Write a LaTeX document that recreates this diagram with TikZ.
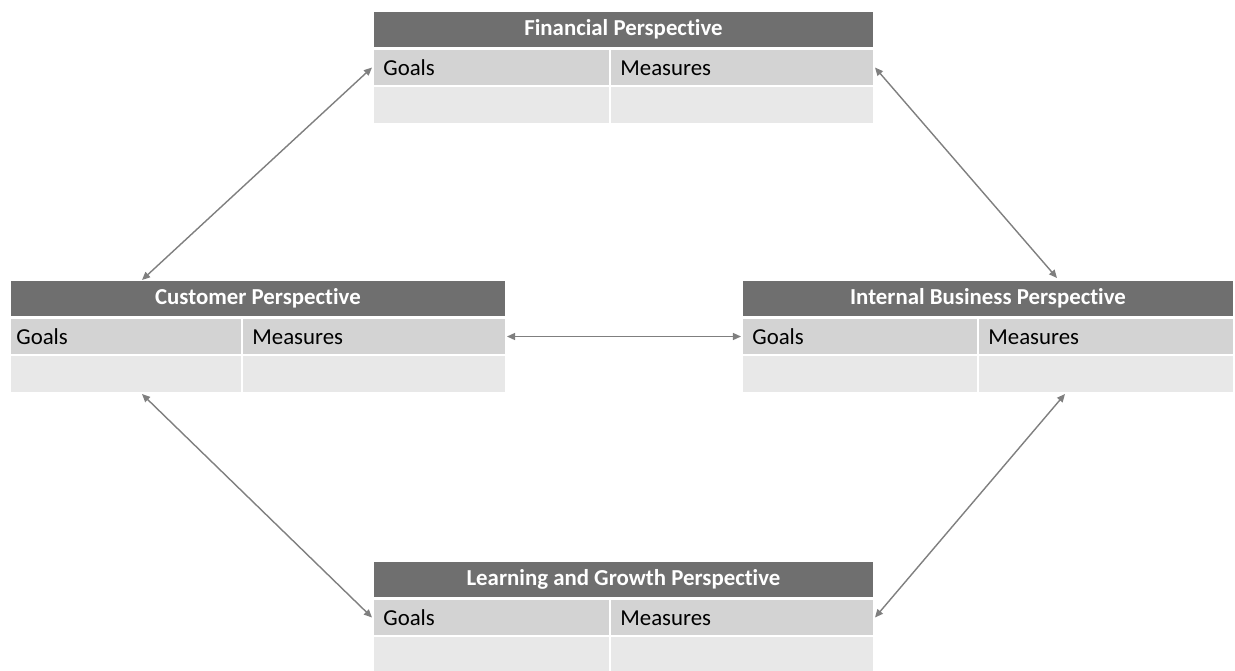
\documentclass[tikz,border=0pt]{standalone}
\usepackage{fontspec}
\setmainfont[RawFeature={-liga;-dlig}]{Carlito}
\usetikzlibrary{arrows.meta}

% one drawing unit = one pixel of the layout
\newlength\pxu
\setlength\pxu{0.02cm}

\definecolor{hdrgray}{HTML}{6F6F6F}
\definecolor{rowdark}{HTML}{D3D3D3}
\definecolor{rowlight}{HTML}{E8E8E8}
\definecolor{linkgray}{HTML}{7F7F7F}

\tikzset{
  cell/.style={inner sep=0pt, outer sep=0pt, anchor=north west},
  hdr/.style={cell, fill=hdrgray, text=white, font=\fontsize{13}{15}\selectfont\bfseries, minimum height=35\pxu},
  rowa/.style={cell, fill=rowdark, minimum height=35\pxu},
  rowb/.style={cell, fill=rowlight, minimum height=36\pxu},
  celltext/.style={anchor=base west, inner sep=0pt, font=\fontsize{13}{15}\selectfont, text=black},
  link/.style={draw=linkgray, line width=0.8pt,
    {Triangle[length=4.6pt,width=4pt]}-{Triangle[length=4.6pt,width=4pt]}},
}

% #1 name, #2 left, #3 top, #4 width, #5 width of the Goals column,
% #6 title, #7 indent of the Goals label
\newcommand\bsctab[7]{%
  \pgfmathsetmacro\rcx{#2+#5+2}%
  \pgfmathsetmacro\rcw{#4-#5-2}%
  \node[hdr, minimum width=#4\pxu] (#1-h) at (#2,#3) {#6};
  \node[rowa, minimum width=#5\pxu] (#1-g) at (#2,#3+38) {};
  \node[rowa, minimum width=\rcw\pxu] (#1-m) at (\rcx,#3+38) {};
  \node[rowb, minimum width=#5\pxu] (#1-b1) at (#2,#3+75) {};
  \node[rowb, minimum width=\rcw\pxu] (#1-b2) at (\rcx,#3+75) {};
  \node[celltext] (#1-gt) at ([xshift=#7\pxu,yshift=-25\pxu]#1-g.north west) {Goals};
  \node[celltext] (#1-mt) at ([xshift=9\pxu,yshift=-25\pxu]#1-m.north west) {Measures};
}

\begin{document}
\begin{tikzpicture}[x=1\pxu, y=-1\pxu]
  \useasboundingbox (0,0) rectangle (1235,670);
  \clip (0,0) rectangle (1235,670);

  % the four perspectives
  \bsctab{fin}{374}{12}{499}{235}{Financial Perspective}{9}
  \bsctab{cust}{11}{281}{494}{230}{Customer Perspective}{5}
  \bsctab{int}{743}{281}{490}{234}{Internal Business Perspective}{9}
  \bsctab{learn}{374}{562}{499}{235}{Learning and Growth Perspective}{9}

  % two-way links between the perspectives
  \draw[link] ([xshift=-2\pxu]fin-g.west) -- ([xshift=131\pxu,yshift=1\pxu]cust-h.north west);
  \draw[link] ([xshift=2\pxu]fin-m.east) -- ([xshift=314\pxu,yshift=3\pxu]int-h.north west);
  \draw[link] ([xshift=2\pxu]cust-m.east) -- ([xshift=-2\pxu]int-g.west);
  \draw[link] ([xshift=131\pxu,yshift=-2\pxu]cust-b1.south west) -- ([xshift=-2\pxu]learn-g.west);
  \draw[link] ([xshift=86\pxu,yshift=-2\pxu]int-b2.south west) -- ([xshift=2\pxu]learn-m.east);
\end{tikzpicture}
\end{document}
